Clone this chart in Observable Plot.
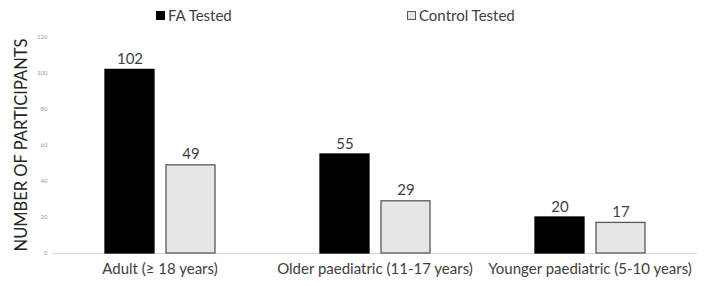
<!DOCTYPE html>
<html>
<head>
<meta charset="utf-8">
<script src="https://cdn.jsdelivr.net/npm/d3@7"></script>
<script src="https://cdn.jsdelivr.net/npm/@observablehq/plot@0.6"></script>
<style>
  html, body { margin: 0; padding: 0; background: #fff; }
  body { width: 711px; height: 286px; overflow: hidden; font-family: Lato, "Open Sans", sans-serif; color: #404040; position: relative; }
  #legend { position: relative; height: 30px; font-size: 15px; }
  .item { position: absolute; top: 6px; display: flex; align-items: center; white-space: nowrap; }
  .sw { width: 9px; height: 9px; margin-right: 3px; box-sizing: border-box; }
  #ylabel { position: absolute; left: 21px; top: 145px; transform: translate(-50%, -50%) rotate(-90deg); white-space: nowrap; font-size: 16.5px; line-height: 1; color: #262626; }
  svg { display: block; font-family: Lato, "Open Sans", sans-serif; }
  [aria-label^="fx-axis"] text { font-size: 15px; fill: #404040; }
  [aria-label="y-axis"] .tick text, [aria-label="y-axis tick label"] text { font-size: 6px; fill: #999; }
</style>
</head>
<body>
<div id="legend"></div>
<div id="chart"></div>
<div id="ylabel"></div>
<script>
const categories = ["Adult (\u2265 18 years)", "Older paediatric (11-17 years)", "Younger paediatric (5-10 years)"];
const seriesNames = ["FA Tested", "Control Tested"];
const faTested = [102, 55, 20];
const controlTested = [49, 29, 17];
const yTicks = [0, 20, 40, 60, 80, 100, 120];
const yLabel = "NUMBER OF PARTICIPANTS";
const fills = ["#000000", "#e6e6e6"];
const strokes = ["#000000", "#595959"];

const data = [];
categories.forEach((c, i) => {
  data.push({category: c, series: seriesNames[0], value: faTested[i]});
  data.push({category: c, series: seriesNames[1], value: controlTested[i]});
});

// legend
const legend = document.getElementById("legend");
const lefts = [156, 407];
seriesNames.forEach((s, i) => {
  const it = document.createElement("div");
  it.className = "item";
  it.style.left = lefts[i] + "px";
  const sw = document.createElement("span");
  sw.className = "sw";
  sw.style.background = fills[i];
  sw.style.border = "1px solid " + strokes[i];
  const t = document.createElement("span");
  t.textContent = s;
  it.appendChild(sw); it.appendChild(t);
  legend.appendChild(it);
});
document.getElementById("ylabel").textContent = yLabel;

const chart = Plot.plot({
  width: 711,
  height: 256,
  marginLeft: 52,
  marginRight: 14,
  marginTop: 7,
  marginBottom: 33,
  fx: {domain: categories, paddingInner: 0, paddingOuter: 0, axis: "bottom", label: null, tickSize: 0, tickPadding: 10},
  x: {domain: seriesNames, paddingInner: 0.197, paddingOuter: 0.86, axis: null},
  y: {domain: [0, 120], ticks: yTicks, tickSize: 0, tickPadding: 5, label: null, grid: false},
  marks: [
    Plot.ruleY([0], {stroke: "#d9d9d9"}),
    ...seriesNames.map((s, i) => Plot.barY(data.filter(d => d.series === s), {
      fx: "category", x: "series", y: "value",
      fill: fills[i], stroke: strokes[i], strokeWidth: 1.3
    })),
    Plot.text(data, {fx: "category", x: "series", y: "value", text: d => String(d.value),
      lineAnchor: "bottom", dy: -6, fontSize: 15, fill: "#404040"})
  ]
});
document.getElementById("chart").appendChild(chart);
</script>
</body>
</html>
